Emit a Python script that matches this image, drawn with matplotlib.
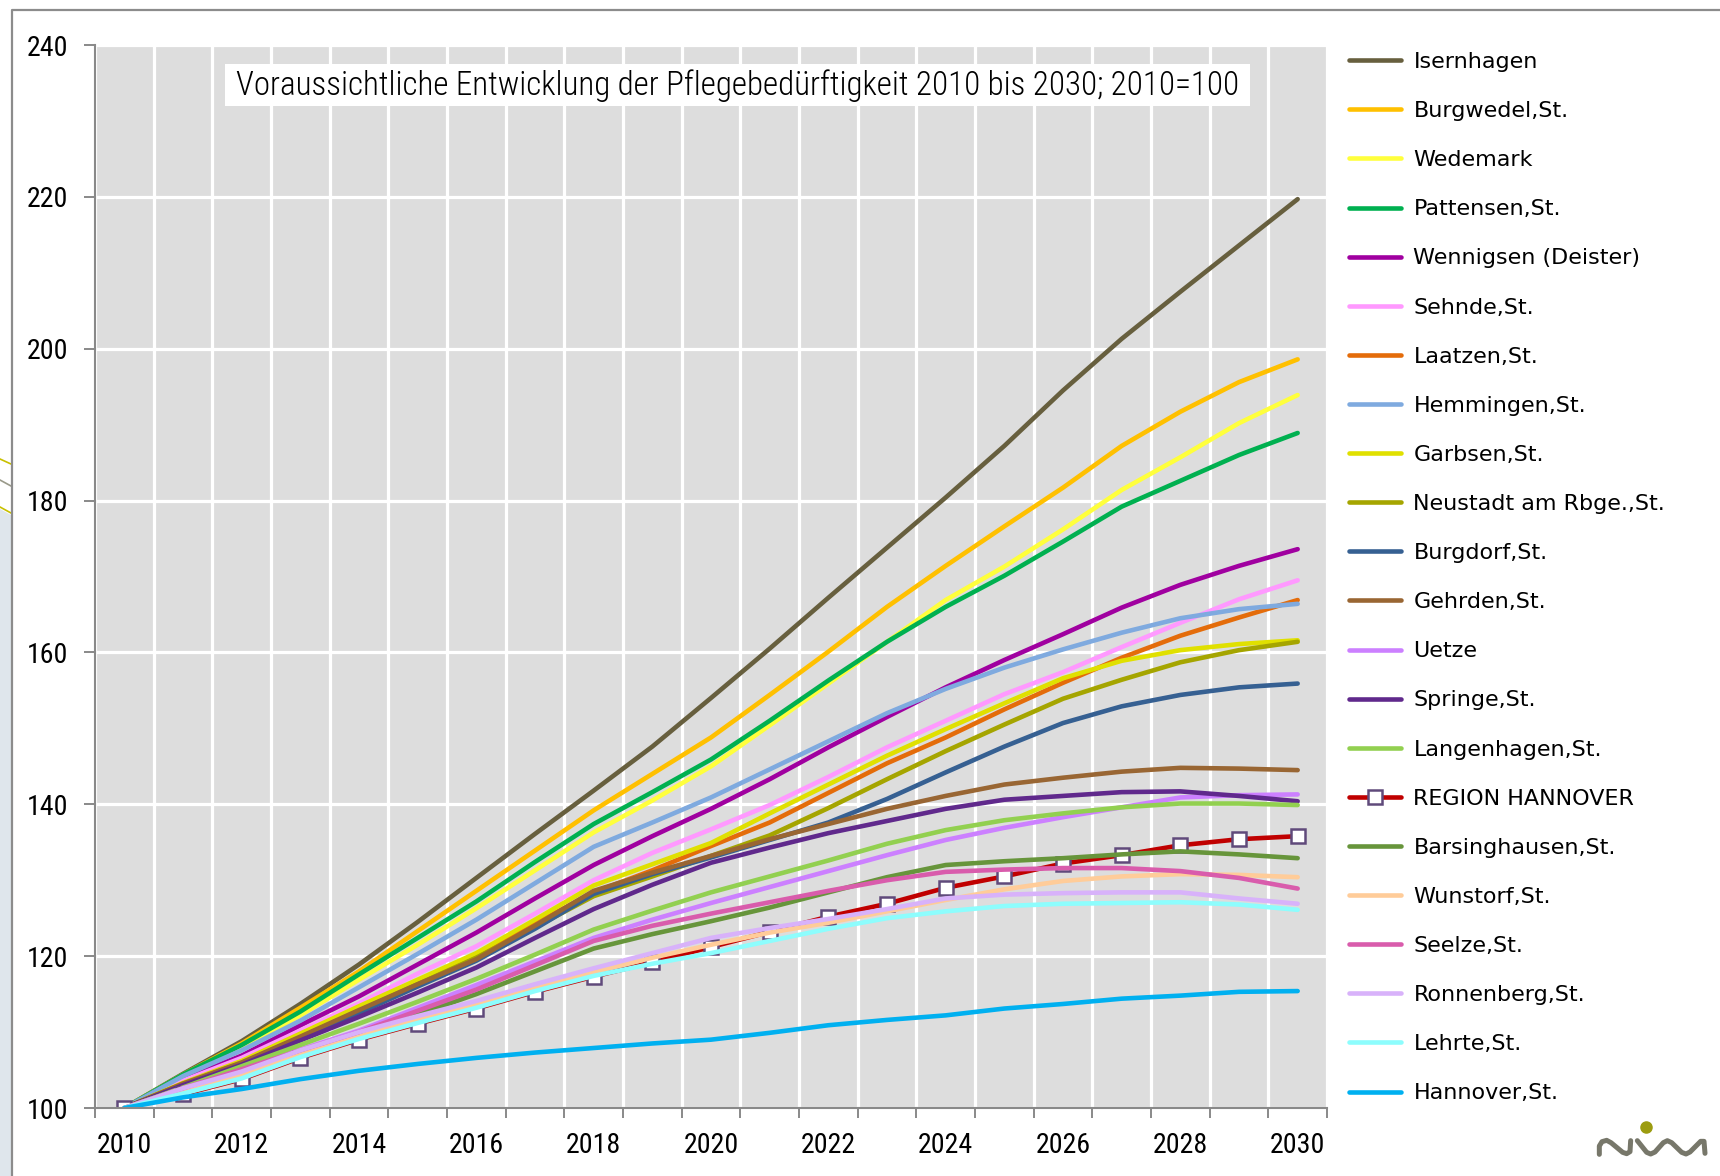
import matplotlib
matplotlib.use("Agg")
import matplotlib.pyplot as plt
from matplotlib.lines import Line2D
from matplotlib.patches import Rectangle, Polygon
import numpy as np

W, H = 1720, 1176

years = list(range(2010, 2031))

isernhagen = [100, 104.5, 108.8, 113.7, 118.9, 124.5, 130.3, 136.1, 141.8, 147.6, 154.0,
              160.5, 167.2, 173.8, 180.4, 187.2, 194.5, 201.3, 207.5, 213.6, 219.7]
burgwedel = [100, 104.4, 108.5, 113.2, 118.0, 123.3, 128.6, 133.9, 139.2, 144.0, 148.8,
             154.4, 160.1, 166.0, 171.4, 176.6, 181.7, 187.2, 191.7, 195.6, 198.6]
wedemark = [100, 104.3, 108.0, 112.2, 116.9, 121.5, 126.3, 131.3, 136.3, 140.5, 145.0,
            150.4, 155.9, 161.4, 166.9, 171.3, 176.2, 181.4, 185.7, 190.2, 193.9]
pattensen = [100, 104.4, 108.3, 112.7, 117.6, 122.4, 127.2, 132.4, 137.4, 141.6, 145.9,
             151.0, 156.3, 161.4, 166.0, 170.1, 174.6, 179.2, 182.6, 186.0, 188.9]
wennigsen = [100, 103.8, 106.9, 110.9, 114.7, 118.9, 123.1, 127.6, 132.0, 135.8, 139.4,
             143.3, 147.5, 151.5, 155.4, 159.0, 162.4, 165.9, 168.9, 171.4, 173.6]
sehnde = [100, 103.6, 106.6, 110.2, 113.8, 117.7, 121.3, 125.6, 130.0, 133.6, 136.7,
          139.9, 143.6, 147.5, 151.0, 154.5, 157.4, 160.7, 163.9, 167.0, 169.5]
laatzen = [100, 103.2, 106.0, 109.5, 113.0, 116.6, 120.2, 124.3, 128.4, 131.3, 134.5,
           137.6, 141.5, 145.4, 148.8, 152.5, 156.0, 159.3, 162.2, 164.6, 166.9]
hemmingen = [100, 104.2, 107.6, 111.5, 115.9, 120.3, 124.8, 129.6, 134.4, 137.6, 140.9,
             144.6, 148.3, 152.0, 155.2, 158.0, 160.4, 162.6, 164.5, 165.7, 166.4]
garbsen = [100, 103.3, 106.2, 109.8, 113.4, 116.9, 120.4, 124.8, 129.3, 132.1, 134.9,
           138.8, 142.6, 146.4, 149.9, 153.3, 156.6, 158.9, 160.3, 161.1, 161.6]
neustadt = [100, 103.2, 105.9, 109.3, 112.8, 116.3, 119.8, 123.8, 127.9, 130.5, 133.2,
            135.9, 139.5, 143.3, 147.0, 150.5, 153.9, 156.4, 158.7, 160.3, 161.4]
burgdorf = [100, 103.1, 105.8, 109.1, 112.5, 116.0, 119.4, 123.6, 128.2, 130.8, 133.0,
            135.3, 137.6, 140.7, 144.2, 147.6, 150.7, 152.9, 154.4, 155.4, 155.9]
gehrden = [100, 103.2, 106.0, 109.4, 112.9, 116.3, 119.6, 124.0, 128.6, 131.0, 133.2,
           135.4, 137.4, 139.4, 141.1, 142.6, 143.5, 144.3, 144.8, 144.7, 144.5]
uetze = [100, 102.6, 105.2, 107.7, 110.2, 113.2, 116.2, 119.3, 122.4, 124.8, 127.0,
         129.1, 131.2, 133.3, 135.3, 136.9, 138.3, 139.6, 140.9, 141.2, 141.3]
springe = [100, 103.0, 105.7, 108.9, 112.0, 115.2, 118.5, 122.4, 126.2, 129.4, 132.3,
           134.3, 136.2, 137.8, 139.4, 140.6, 141.1, 141.6, 141.7, 141.1, 140.4]
langenhagen = [100, 102.7, 105.5, 108.3, 111.1, 114.0, 117.0, 120.2, 123.5, 126.0, 128.4,
               130.5, 132.6, 134.8, 136.6, 137.9, 138.8, 139.6, 140.1, 140.1, 139.9]
region = [100, 101.8, 103.8, 106.6, 109.0, 111.1, 113.1, 115.3, 117.3, 119.2, 121.2,
          123.2, 125.2, 126.9, 129.0, 130.5, 132.2, 133.3, 134.6, 135.4, 135.8]
barsinghausen = [100, 102.5, 105.0, 107.3, 109.7, 112.3, 115.0, 118.0, 121.0, 122.9, 124.6,
                 126.4, 128.4, 130.4, 132.0, 132.5, 132.9, 133.4, 133.8, 133.4, 132.9]
wunstorf = [100, 102.3, 104.4, 107.2, 109.6, 111.7, 113.7, 115.9, 117.9, 119.8, 121.5,
            123.1, 124.4, 125.9, 127.4, 128.8, 129.9, 130.5, 130.8, 130.7, 130.4]
seelze = [100, 102.6, 105.1, 107.6, 110.0, 112.8, 115.6, 118.8, 122.0, 124.0, 125.6,
          127.1, 128.6, 130.0, 131.1, 131.4, 131.6, 131.6, 131.2, 130.3, 128.9]
ronnenberg = [100, 102.6, 104.8, 107.6, 110.0, 112.1, 114.1, 116.3, 118.4, 120.4, 122.4,
              123.7, 124.9, 126.2, 127.6, 128.1, 128.3, 128.4, 128.4, 127.6, 126.9]
lehrte = [100, 101.9, 103.9, 106.7, 109.1, 111.2, 113.2, 115.4, 117.4, 119.0, 120.4,
          122.0, 123.6, 125.0, 125.9, 126.6, 126.9, 127.0, 127.1, 126.8, 126.1]
hannover = [100, 101.4, 102.5, 103.8, 104.9, 105.8, 106.6, 107.3, 107.9, 108.5, 109.0,
            109.9, 110.9, 111.6, 112.2, 113.1, 113.7, 114.4, 114.8, 115.3, 115.4]

series = [
    ("Isernhagen", isernhagen, "#675f3e"),
    ("Burgwedel,St.", burgwedel, "#ffc000"),
    ("Wedemark", wedemark, "#ffff3c"),
    ("Pattensen,St.", pattensen, "#00b050"),
    ("Wennigsen (Deister)", wennigsen, "#a000a0"),
    ("Sehnde,St.", sehnde, "#ff99ff"),
    ("Laatzen,St.", laatzen, "#e46c0a"),
    ("Hemmingen,St.", hemmingen, "#7faadf"),
    ("Garbsen,St.", garbsen, "#e0e000"),
    ("Neustadt am Rbge.,St.", neustadt, "#a5a500"),
    ("Burgdorf,St.", burgdorf, "#366092"),
    ("Gehrden,St.", gehrden, "#996633"),
    ("Uetze", uetze, "#cc80ff"),
    ("Springe,St.", springe, "#60298c"),
    ("Langenhagen,St.", langenhagen, "#92d050"),
    ("REGION HANNOVER", region, "#c00000"),
    ("Barsinghausen,St.", barsinghausen, "#67953b"),
    ("Wunstorf,St.", wunstorf, "#ffcc99"),
    ("Seelze,St.", seelze, "#d95cac"),
    ("Ronnenberg,St.", ronnenberg, "#d8b2fa"),
    ("Lehrte,St.", lehrte, "#8dfdfd"),
    ("Hannover,St.", hannover, "#00b0f0"),
]

title = "Voraussichtliche Entwicklung der Pflegebedürftigkeit 2010 bis 2030; 2010=100"
# narrow face like the original; first one that is installed wins
narrow = ["Liberation Sans Narrow", "Roboto Condensed", "DejaVu Sans Condensed",
          "Liberation Sans"]
axis_grey = "#898989"


def fx(x):
    return x / W


def fy(y):
    return 1 - y / H


fig = plt.figure(figsize=(W / 100, H / 100), dpi=100)
renderer = fig.canvas.get_renderer()

# bits of the slide behind the chart, far left
fig.add_artist(Polygon([(fx(0), fy(509)), (fx(11), fy(515)), (fx(11), fy(H)), (fx(0), fy(H))],
                       closed=True, transform=fig.transFigure, fc="#dfe6ec", ec="none"))
for (y0, y1, c) in [(459, 464, "#c8c000"), (480, 486, "#9a9a8a"), (507, 513, "#c8c000")]:
    fig.add_artist(Line2D([fx(0), fx(11)], [fy(y0), fy(y1)], transform=fig.transFigure,
                          color=c, lw=1.2))
# frame
fig.add_artist(Line2D([fx(12), fx(12), fx(W)], [fy(H), fy(10), fy(10)],
                      transform=fig.transFigure, color="#8c8c8c", lw=1.6))

ax = fig.add_axes([fx(95), fy(1108), fx(1327) - fx(95), fy(45) - fy(1108)])
ax.set_facecolor("#dddddd")

handles = []
for name, vals, col in series:
    if name == "REGION HANNOVER":
        ln, = ax.plot(years, vals, color=col, lw=3.3, marker="s", ms=10, mfc="white",
                      mec="#604a7b", mew=1.8, solid_capstyle="round")
    else:
        ln, = ax.plot(years, vals, color=col, lw=3.3, solid_capstyle="round")
    handles.append(ln)

ax.set_xlim(2009.5, 2030.5)
ax.set_ylim(100, 240)
ax.set_xticks(years[::2])
ax.set_xticks(np.arange(2009.5, 2031, 1), minor=True)
ax.set_yticks(range(100, 241, 20))

# size tick labels so "2010" is ~55 px wide like the original
probe = fig.text(0, 0, "2010", fontsize=20, family=narrow)
tick_size = 20 * 55 / probe.get_window_extent(renderer).width
probe.remove()

ax.tick_params(axis="x", which="major", length=0, pad=17, labelsize=tick_size)
ax.tick_params(axis="x", which="minor", length=7, width=1.4, color=axis_grey)
ax.tick_params(axis="y", length=7.7, width=1.4, color=axis_grey, pad=11.5,
               labelsize=tick_size)
for lab in ax.get_xticklabels() + ax.get_yticklabels():
    lab.set_family(narrow)
ax.grid(which="minor", axis="x", color="white", lw=2.3)
ax.grid(which="major", axis="y", color="white", lw=2.3)
ax.set_axisbelow(True)
for s in ["top", "right"]:
    ax.spines[s].set_visible(False)
for s in ["left", "bottom"]:
    ax.spines[s].set_color(axis_grey)
    ax.spines[s].set_linewidth(1.5)

# title box inside the plot
fig.add_artist(Rectangle((fx(225), fy(106)), fx(1250) - fx(225), fy(64) - fy(106),
                         transform=fig.transFigure, fc="white", ec="none", zorder=5))
t = fig.text(fx(738), fy(86), title, ha="center", va="center", fontsize=22,
             family=narrow, weight="light", color="black", zorder=6)
t.set_fontsize(22 * 1002 / t.get_window_extent(renderer).width)

fig.legend(handles, [s[0] for s in series], loc="upper left",
           bbox_to_anchor=(fx(1349), fy(52)), frameon=False, fontsize=16,
           handlelength=2.35, handletextpad=0.55, labelspacing=1.31,
           borderpad=0, borderaxespad=0)

# niw logo
logo_grey = "#77776a"


def lx(x):
    return fx(1580 + x / 3)


def ly(y):
    return fy(1100 + y / 3)


path_n = [(58, 163), (58, 138), (66, 125), (80, 121), (93, 128), (128, 157), (140, 161),
          (150, 155), (152, 122)]
path_w = [(172, 122), (200, 157), (212, 162), (225, 156), (250, 128), (262, 122), (275, 128),
          (305, 157), (318, 162), (330, 156), (362, 124), (372, 124), (375, 160)]
for p in (path_n, path_w):
    fig.add_artist(Line2D([lx(a) for a, b in p], [ly(b) for a, b in p],
                          transform=fig.transFigure, color=logo_grey, lw=3.6,
                          solid_capstyle="round", solid_joinstyle="round"))
fig.add_artist(Line2D([lx(198)], [ly(80)], transform=fig.transFigure, marker="o",
                      ms=8, color="#9c9c10", lw=0))

fig.savefig("out.png", dpi=100)
